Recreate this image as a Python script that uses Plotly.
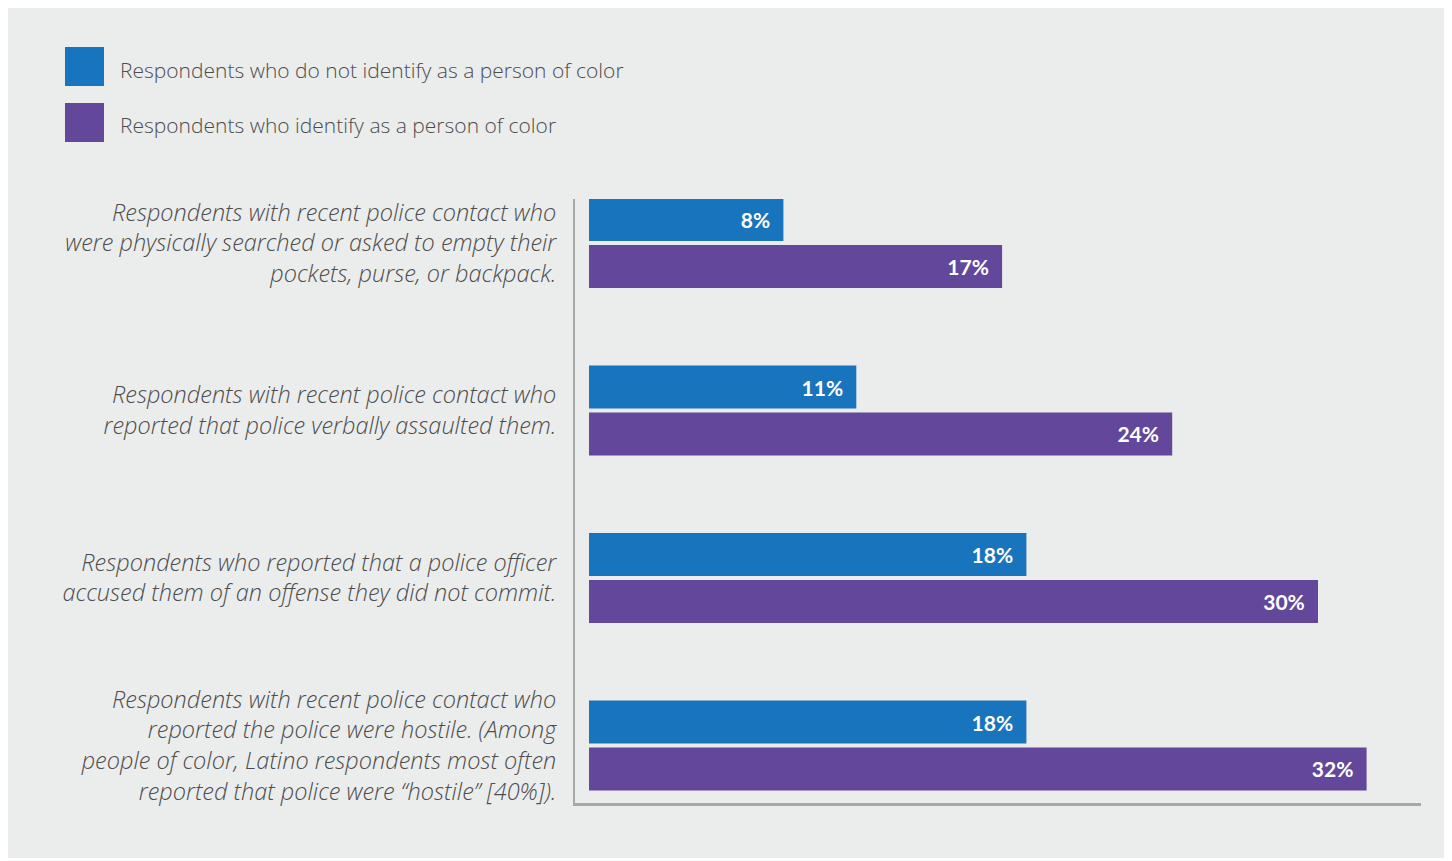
import plotly.graph_objects as go

# ---------------- data ----------------
categories = [
    "Respondents with recent police contact who<br>were physically searched or asked to empty their<br>pockets, purse, or backpack.",
    "Respondents with recent police contact who<br>reported that police verbally assaulted them.",
    "Respondents who reported that a police officer<br>accused them of an offense they did not commit.",
    "Respondents with recent police contact who<br>reported the police were hostile. (Among<br>people of color, Latino respondents most often<br>reported that police were \u201chostile\u201d [40%]).",
]
series_names = [
    "Respondents who do not identify as a person of color",
    "Respondents who identify as a person of color",
]
not_poc_values = [8, 11, 18, 18]
poc_values = [17, 24, 30, 32]
series_colors = ["#1874bd", "#63479b"]

# ---------------- layout geometry (reference pixels) ----------------
OFF = 8  # page body margin
W, H = 1452 - OFF, 861 - OFF
PL, PR, PT, PB = 575 - OFF, 1421 - OFF, 199 - OFF, 803 - OFF  # plot area edges in figure pixels


def px_x(px):
    return (px - OFF - PL) / (PR - PL)


def px_y(py):
    return (PB - (py - OFF)) / (PB - PT)


BG = "#ebecec"
TEXT = "#4d4d4d"
AXIS = "#a3a9aa"
FONT = "Open Sans"

fig = go.Figure()
for name, vals, col in zip(series_names, [not_poc_values, poc_values], series_colors):
    fig.add_trace(go.Bar(
        y=categories,
        x=vals,
        name=name,
        orientation="h",
        marker=dict(color=col, line=dict(width=0)),
        texttemplate="%{x}%\u00a0\u00a0",
        textposition="inside",
        insidetextanchor="end",
        textangle=0,
        constraintext="none",
        textfont=dict(family="Lato", size=21, color="white", weight="bold"),
        hoverinfo="skip",
        showlegend=False,
    ))

shapes = [
    # grey panel
    dict(type="rect", xref="paper", yref="paper",
         x0=px_x(8), x1=px_x(1447), y0=px_y(858), y1=px_y(8),
         fillcolor=BG, line=dict(width=0), layer="below"),
]
annotations = []
legend_rows = [(47, 86), (103, 142)]
for (top, bot), name, col in zip(legend_rows, series_names, series_colors):
    shapes.append(dict(type="rect", xref="paper", yref="paper",
                       x0=px_x(65), x1=px_x(104), y0=px_y(bot), y1=px_y(top),
                       fillcolor=col, line=dict(width=0), layer="above"))
    annotations.append(dict(xref="paper", yref="paper", x=px_x(118), y=px_y((top + bot) / 2 + 3),
                            xanchor="left", yanchor="middle", showarrow=False,
                            text=name, font=dict(family=FONT, size=21, color=TEXT, weight=300)))

pxpp = 24.3  # pixels per percent
fig.update_layout(
    width=W, height=H,
    margin=dict(l=PL, r=W - PR, t=PT, b=H - PB, pad=0),
    paper_bgcolor="white",
    plot_bgcolor="rgba(0,0,0,0)",
    barmode="group",
    bargap=0.439,
    bargroupgap=0.085,
    showlegend=False,
    shapes=shapes,
    annotations=annotations,
    xaxis=dict(range=[-14 / pxpp, (PR - PL - 14) / pxpp], showgrid=False, zeroline=False,
               showticklabels=False, showline=True, linecolor=AXIS, linewidth=2.5,
               ticks="", fixedrange=True),
    yaxis=dict(type="category", categoryorder="array", categoryarray=categories,
               range=[3 + 57.5 / 167.5, -44 / 167.5], showgrid=False, zeroline=False,
               showline=True, linecolor=AXIS, linewidth=2, ticks="",
               ticklabelstandoff=12,
               tickfont=dict(family=FONT, size=23.5, color=TEXT, style="italic", weight=300)),
)

fig.write_html("out.html")
